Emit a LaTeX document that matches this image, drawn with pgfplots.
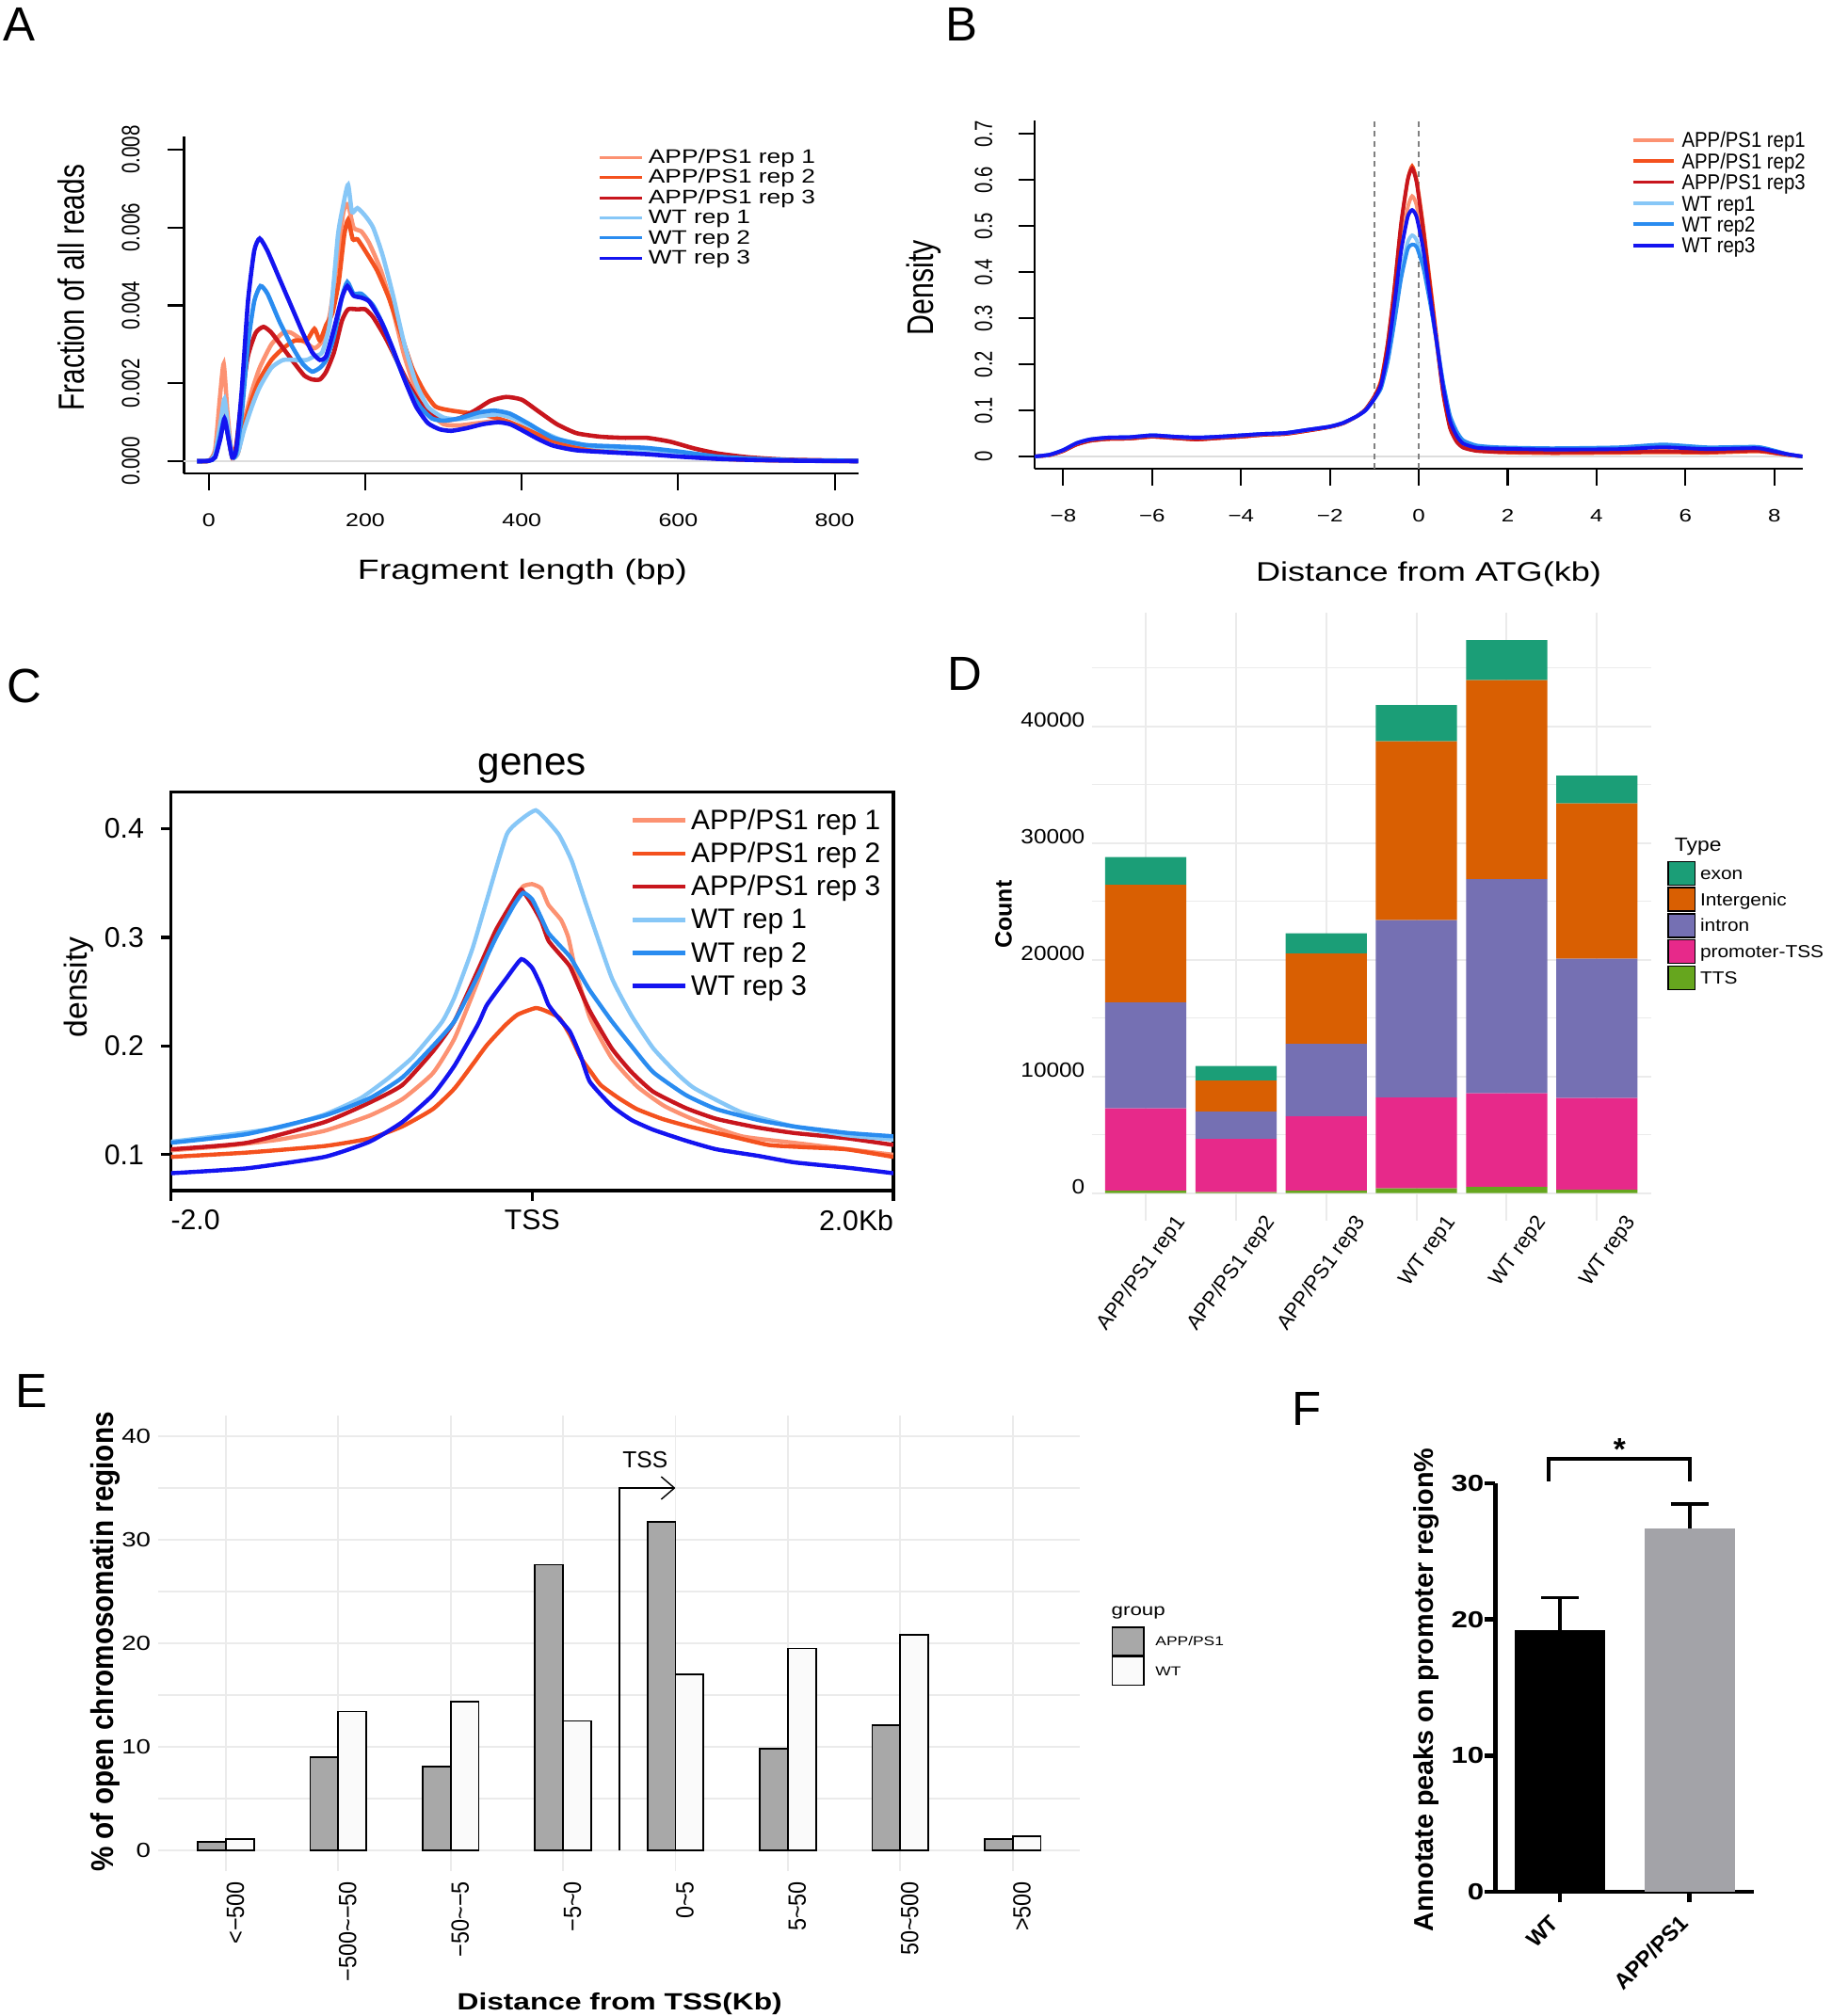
\documentclass[border=0pt]{standalone}
\usepackage{fontspec}
\setmainfont{Liberation Sans}
\newfontfamily\fw{Liberation Sans}[FakeStretch=1.27]
\newfontfamily\fn{Liberation Sans}[FakeStretch=0.77]
\newfontfamily\fnE{Liberation Sans}[FakeStretch=0.89]
\newfontfamily\fm{Liberation Sans}[FakeStretch=1.12]
\usepackage{pgfplots}
\pgfplotsset{compat=1.18}
\usetikzlibrary{arrows.meta}
\newcommand\fs[1]{\fontsize{#1}{#1}\selectfont}

\definecolor{ap1}{HTML}{FC9272}
\definecolor{ap2}{HTML}{F4511E}
\definecolor{ap3}{HTML}{C8161D}
\definecolor{wt1}{HTML}{87C7F7}
\definecolor{wt2}{HTML}{2A8CF0}
\definecolor{wt3}{HTML}{1414F0}
\definecolor{dexon}{HTML}{1B9E77}
\definecolor{dinter}{HTML}{D95F02}
\definecolor{dintron}{HTML}{7570B3}
\definecolor{dprom}{HTML}{E7298A}
\definecolor{dtts}{HTML}{66A61E}
\definecolor{gridc}{HTML}{EBEBEB}
\definecolor{egrey}{HTML}{A8A8A8}
\definecolor{ewhite}{HTML}{FAFAFA}
\definecolor{fgrey}{HTML}{A3A3A8}
\definecolor{zline}{HTML}{DDDDDD}

\pgfplotsset{
  dkey/.style={legend image code/.code={\draw[##1] (0mm,-1.25mm) rectangle (2.83mm,1.25mm);}},
  ekey/.style={legend image code/.code={\draw[##1] (0mm,-1.5mm) rectangle (3.33mm,1.5mm);}},
}

\begin{document}
\begin{tikzpicture}
\path[use as bounding box] (0,0) rectangle (194.6mm,-214.2mm);
\node[anchor=base west, inner sep=0pt, font=\fs{14.5}] at (0.3mm,-4.4mm) {A};
\node[anchor=base west, inner sep=0pt, font=\fs{14.5}] at (100.4mm,-4.4mm) {B};
\node[anchor=base west, inner sep=0pt, font=\fs{14.5}] at (0.7mm,-74.6mm) {C};
\node[anchor=base west, inner sep=0pt, font=\fs{14.5}] at (100.6mm,-73.3mm) {D};
\node[anchor=base west, inner sep=0pt, font=\fs{14.5}] at (1.6mm,-149.5mm) {E};
\node[anchor=base west, inner sep=0pt, font=\fs{14.5}] at (137.2mm,-151.4mm) {F};

%================ A ================
\begin{axis}[
  at={(19.55mm,-14.5mm)}, anchor=north west, scale only axis,
  width=71.65mm, height=35.8mm, clip=false,
  xmin=-31.7, xmax=830.6, ymin=-0.000314, ymax=0.00834,
  axis x line=bottom, axis y line=left,
  axis line style={-, line width=0.6pt},
  tick align=outside, major tick length=1.75mm,
  tick style={line width=0.6pt, black},
  xtick={0,200,400,600,800}, xticklabels={0,200,400,600,800},
  ytick={0,0.002,0.004,0.006,0.008}, yticklabels={0.000,0.002,0.004,0.006,0.008},
  scaled y ticks=false,
  xticklabel style={anchor=north, inner sep=0pt, yshift=-2.45mm, font=\fw\fs{5.6}},
  yticklabel style={xshift=-2.9mm, rotate=90, anchor=south, inner sep=0pt, font=\fn\fs{7.6}},
  xlabel={Fragment length (bp)}, ylabel={Fraction of all reads},
  every axis x label/.style={at={(axis description cs:0.5017,-0.3128)}, anchor=base, inner sep=0pt, font=\fw\fs{8.4}},
  every axis y label/.style={at={(axis description cs:-0.1486,0.5511)}, rotate=90, anchor=base, inner sep=0pt, font=\fn\fs{11}},
  legend style={at={(axis description cs:0.6134,0.9696)}, anchor=north west, draw=none, fill=none, inner sep=0pt, row sep=0pt, column sep=0.57mm, nodes={inner sep=0pt, text height=1.7mm, text depth=0.44mm}, font=\fw\fs{5.9}},
  legend cell align=left,
  legend image code/.code={\draw[#1, line width=0.9pt] (0mm,0mm) -- (4.43mm,0mm);},
  every axis plot/.append style={line width=1.3pt, smooth, tension=0.35},
]
\addplot[zline, line width=0.5pt, sharp plot, forget plot] coordinates {(-31.7,0) (830.6,0)};
\addplot[ap1] coordinates {(-15,0) (0,0.00001) (8,0.0003) (14,0.0016) (19,0.0025) (24,0.0012) (30,0.0001) (37,0.0003) (45,0.0010) (55,0.0018) (65,0.0024) (80,0.0030) (95,0.0033) (105,0.0033) (120,0.0031) (135,0.0029) (145,0.0031) (155,0.0038) (165,0.0053) (172,0.0064) (178,0.0066) (185,0.0060) (195,0.0059) (205,0.0056) (220,0.0049) (235,0.0039) (250,0.0027) (265,0.0018) (280,0.0013) (300,0.00095) (320,0.00092) (345,0.00098) (370,0.00103) (395,0.00092) (420,0.0007) (450,0.00045) (490,0.0003) (530,0.00025) (570,0.0002) (610,0.00013) (660,0.00006) (720,0.00002) (830,0)};
\addlegendentry{APP/PS1 rep 1}
\addplot[ap2] coordinates {(-15,0) (0,0.00001) (8,0.0002) (15,0.0009) (20,0.0013) (25,0.0007) (30,0.0001) (37,0.0002) (45,0.0009) (55,0.0016) (65,0.0021) (80,0.0026) (95,0.0029) (110,0.0031) (125,0.0031) (135,0.0034) (142,0.0031) (150,0.0035) (158,0.0038) (166,0.0046) (173,0.0058) (178,0.0062) (184,0.0057) (190,0.0057) (200,0.0054) (215,0.0049) (230,0.0042) (245,0.0033) (260,0.0024) (275,0.0018) (290,0.0014) (310,0.0013) (335,0.00123) (360,0.00115) (385,0.001) (410,0.00078) (440,0.00052) (480,0.00033) (520,0.00025) (560,0.00021) (600,0.00014) (650,0.00007) (700,0.00003) (830,0)};
\addlegendentry{APP/PS1 rep 2}
\addplot[ap3] coordinates {(-15,0) (0,0.00001) (8,0.0002) (15,0.0008) (20,0.0012) (25,0.0006) (30,0.0001) (35,0.0004) (42,0.0016) (50,0.0027) (60,0.0033) (70,0.00345) (80,0.0033) (95,0.0029) (110,0.0025) (122,0.0022) (132,0.0021) (142,0.0021) (150,0.0023) (160,0.0028) (170,0.0036) (178,0.0039) (190,0.0039) (200,0.0039) (210,0.0037) (225,0.0032) (240,0.0026) (255,0.0020) (270,0.0015) (285,0.0012) (300,0.00105) (320,0.0011) (340,0.0013) (360,0.00155) (380,0.00165) (400,0.00158) (420,0.0013) (445,0.00095) (470,0.00072) (500,0.00063) (530,0.0006) (560,0.0006) (590,0.0005) (620,0.00033) (650,0.0002) (690,0.0001) (740,0.00004) (830,0.00001)};
\addlegendentry{APP/PS1 rep 3}
\addplot[wt1] coordinates {(-15,0) (0,0.00001) (8,0.0002) (15,0.0010) (20,0.0016) (25,0.0008) (30,0.0001) (37,0.0002) (45,0.0008) (55,0.0014) (65,0.0019) (80,0.0024) (95,0.0026) (110,0.0026) (125,0.0026) (135,0.0027) (145,0.0028) (155,0.0036) (165,0.0058) (172,0.0066) (178,0.0071) (183,0.0064) (190,0.0065) (200,0.0063) (210,0.0060) (222,0.0053) (235,0.0043) (250,0.0030) (265,0.0020) (280,0.0014) (300,0.00112) (320,0.00108) (345,0.00115) (370,0.0012) (390,0.0011) (420,0.00082) (450,0.00055) (490,0.00038) (530,0.00032) (570,0.00027) (610,0.00018) (660,0.00009) (720,0.00003) (830,0)};
\addlegendentry{WT rep 1}
\addplot[wt2] coordinates {(-15,0) (0,0.00001) (8,0.0001) (15,0.0007) (20,0.0011) (25,0.0006) (30,0.0001) (35,0.0002) (42,0.0012) (50,0.0030) (58,0.0041) (66,0.0045) (75,0.0043) (90,0.0036) (105,0.0030) (120,0.0025) (132,0.0023) (142,0.0024) (150,0.0026) (160,0.0032) (170,0.0042) (177,0.0046) (185,0.0043) (195,0.0043) (210,0.0040) (225,0.0034) (240,0.0026) (255,0.0019) (270,0.0014) (285,0.0011) (300,0.00104) (320,0.0011) (345,0.00125) (365,0.0013) (385,0.00122) (410,0.00095) (440,0.0006) (480,0.00042) (520,0.00038) (560,0.00034) (600,0.00025) (650,0.00012) (700,0.00006) (760,0.00002) (830,0.00001)};
\addlegendentry{WT rep 2}
\addplot[wt3] coordinates {(-15,0) (0,0.00001) (8,0.0001) (15,0.0006) (20,0.00109) (25,0.0006) (30,0.0001) (35,0.0003) (42,0.0018) (50,0.0041) (58,0.0054) (65,0.00572) (75,0.0054) (90,0.0047) (105,0.0040) (120,0.0033) (132,0.0028) (142,0.0026) (150,0.0027) (160,0.0034) (170,0.0042) (177,0.0045) (185,0.00425) (195,0.0042) (205,0.0041) (220,0.0036) (235,0.0029) (250,0.0021) (265,0.0014) (280,0.00098) (295,0.00082) (310,0.00078) (330,0.00085) (350,0.00095) (370,0.00100) (385,0.00095) (400,0.00080) (420,0.00058) (440,0.0004) (470,0.00028) (520,0.00022) (560,0.00018) (600,0.00012) (650,0.00006) (700,0.00003) (760,0.00001) (830,0)};
\addlegendentry{WT rep 3}
\end{axis}

%================ B ================
\begin{axis}[
  at={(109.9mm,-12.8mm)}, anchor=north west, scale only axis,
  width=81.55mm, height=37.03mm, clip=false,
  xmin=-8.644, xmax=8.63, ymin=-0.0272, ymax=0.7292,
  axis x line=bottom, axis y line=left,
  axis line style={-, line width=0.6pt},
  tick align=outside, major tick length=1.75mm,
  tick style={line width=0.6pt, black},
  xtick={-8,-6,-4,-2,0,2,4,6,8}, xticklabels={−8,−6,−4,−2,0,2,4,6,8},
  ytick={0,0.1,0.2,0.3,0.4,0.5,0.6,0.7}, yticklabels={0,0.1,0.2,0.3,0.4,0.5,0.6,0.7},
  xticklabel style={anchor=north, inner sep=0pt, yshift=-2.49mm, font=\fw\fs{5.4}},
  yticklabel style={xshift=-2.67mm, rotate=90, anchor=south, inner sep=0pt, font=\fn\fs{7.5}},
  xlabel={Distance from ATG(kb)}, ylabel={Density},
  every axis x label/.style={at={(axis description cs:0.5132,-0.3214)}, anchor=base, inner sep=0pt, font=\fw\fs{8.1}},
  every axis y label/.style={at={(axis description cs:-0.1324,0.5199)}, rotate=90, anchor=base, inner sep=0pt, font=\fn\fs{11.2}},
  legend style={at={(axis description cs:0.7762,0.9762)}, anchor=north west, draw=none, fill=none, inner sep=0pt, row sep=0pt, column sep=0.7mm, nodes={inner sep=0pt, text height=1.94mm, text depth=0.3mm}, font=\fnE\fs{6.5}},
  legend cell align=left,
  legend image code/.code={\draw[#1, line width=1.1pt] (0mm,0mm) -- (4.3mm,0mm);},
  every axis plot/.append style={line width=1.1pt, smooth, tension=0.35},
]
\addplot[zline, line width=0.5pt, sharp plot, forget plot] coordinates {(-8.644,0) (8.63,0)};
\addplot[gray, line width=0.4pt, sharp plot, dash pattern=on 0.6mm off 0.47mm, forget plot] coordinates {(-1,-0.0272) (-1,0.7292)};
\addplot[gray, line width=0.4pt, sharp plot, dash pattern=on 0.6mm off 0.47mm, forget plot] coordinates {(0,-0.0272) (0,0.7292)};
\addplot[ap1] coordinates {(-8.64,0) (-8.3,0.003) (-8.0,0.012) (-7.7,0.026) (-7.4,0.034) (-7.0,0.038) (-6.5,0.039) (-6.0,0.043) (-5.5,0.040) (-5.0,0.037) (-4.5,0.040) (-4.0,0.043) (-3.5,0.047) (-3.0,0.049) (-2.5,0.056) (-2.0,0.064) (-1.7,0.072) (-1.4,0.087) (-1.2,0.102) (-1.0,0.128) (-0.85,0.155) (-0.7,0.225) (-0.55,0.33) (-0.4,0.45) (-0.25,0.54) (-0.15,0.565) (-0.05,0.545) (0.1,0.46) (0.25,0.35) (0.4,0.245) (0.55,0.14) (0.7,0.07) (0.85,0.038) (1.0,0.022) (1.3,0.014) (1.8,0.011) (3.0,0.009) (4.5,0.011) (5.5,0.012) (6.5,0.011) (7.6,0.014) (8.0,0.009) (8.3,0.004) (8.63,0)};
\addlegendentry{APP/PS1 rep1}
\addplot[ap2] coordinates {(-8.64,0) (-8.3,0.003) (-8.0,0.012) (-7.7,0.026) (-7.4,0.034) (-7.0,0.038) (-6.5,0.039) (-6.0,0.043) (-5.5,0.040) (-5.0,0.037) (-4.5,0.040) (-4.0,0.043) (-3.5,0.047) (-3.0,0.049) (-2.5,0.056) (-2.0,0.064) (-1.7,0.072) (-1.4,0.087) (-1.2,0.102) (-1.0,0.13) (-0.85,0.165) (-0.7,0.245) (-0.55,0.36) (-0.4,0.50) (-0.25,0.60) (-0.15,0.63) (-0.05,0.60) (0.1,0.50) (0.25,0.38) (0.4,0.26) (0.55,0.14) (0.7,0.065) (0.85,0.035) (1.0,0.02) (1.3,0.013) (1.8,0.009) (3.0,0.007) (4.5,0.008) (5.5,0.009) (6.5,0.008) (7.6,0.011) (8.0,0.007) (8.3,0.003) (8.63,0)};
\addlegendentry{APP/PS1 rep2}
\addplot[ap3] coordinates {(-8.64,0) (-8.3,0.003) (-8.0,0.012) (-7.7,0.026) (-7.4,0.034) (-7.0,0.038) (-6.5,0.039) (-6.0,0.043) (-5.5,0.040) (-5.0,0.037) (-4.5,0.040) (-4.0,0.043) (-3.5,0.047) (-3.0,0.049) (-2.5,0.056) (-2.0,0.064) (-1.7,0.072) (-1.4,0.087) (-1.2,0.102) (-1.0,0.13) (-0.85,0.16) (-0.7,0.245) (-0.55,0.365) (-0.4,0.505) (-0.25,0.60) (-0.15,0.625) (-0.05,0.595) (0.1,0.49) (0.25,0.37) (0.4,0.25) (0.55,0.135) (0.7,0.062) (0.85,0.032) (1.0,0.019) (1.3,0.012) (1.8,0.010) (3.0,0.009) (4.5,0.010) (5.5,0.011) (6.5,0.010) (7.6,0.013) (8.0,0.008) (8.3,0.004) (8.63,0)};
\addlegendentry{APP/PS1 rep3}
\addplot[wt1] coordinates {(-8.64,0) (-8.3,0.004) (-8.0,0.014) (-7.7,0.029) (-7.4,0.037) (-7.0,0.041) (-6.5,0.042) (-6.0,0.046) (-5.5,0.043) (-5.0,0.041) (-4.5,0.043) (-4.0,0.046) (-3.5,0.049) (-3.0,0.051) (-2.5,0.058) (-2.0,0.065) (-1.7,0.073) (-1.4,0.087) (-1.2,0.100) (-1.0,0.125) (-0.85,0.15) (-0.7,0.21) (-0.55,0.30) (-0.4,0.40) (-0.25,0.465) (-0.15,0.48) (-0.05,0.47) (0.1,0.42) (0.25,0.34) (0.4,0.25) (0.55,0.155) (0.7,0.085) (0.85,0.05) (1.0,0.032) (1.3,0.022) (1.8,0.019) (3.0,0.016) (4.5,0.018) (5.5,0.024) (6.5,0.018) (7.6,0.02) (8.0,0.012) (8.3,0.005) (8.63,0)};
\addlegendentry{WT rep1}
\addplot[wt2] coordinates {(-8.64,0) (-8.3,0.004) (-8.0,0.014) (-7.7,0.029) (-7.4,0.037) (-7.0,0.041) (-6.5,0.042) (-6.0,0.046) (-5.5,0.043) (-5.0,0.041) (-4.5,0.043) (-4.0,0.046) (-3.5,0.049) (-3.0,0.051) (-2.5,0.058) (-2.0,0.065) (-1.7,0.073) (-1.4,0.087) (-1.2,0.100) (-1.0,0.125) (-0.85,0.148) (-0.7,0.205) (-0.55,0.29) (-0.4,0.385) (-0.25,0.45) (-0.15,0.46) (-0.05,0.455) (0.1,0.41) (0.25,0.335) (0.4,0.25) (0.55,0.16) (0.7,0.09) (0.85,0.055) (1.0,0.035) (1.3,0.024) (1.8,0.02) (3.0,0.018) (4.5,0.02) (5.5,0.026) (6.5,0.02) (7.6,0.021) (8.0,0.013) (8.3,0.005) (8.63,0)};
\addlegendentry{WT rep2}
\addplot[wt3] coordinates {(-8.64,0) (-8.3,0.004) (-8.0,0.014) (-7.7,0.029) (-7.4,0.037) (-7.0,0.041) (-6.5,0.042) (-6.0,0.046) (-5.5,0.043) (-5.0,0.041) (-4.5,0.043) (-4.0,0.046) (-3.5,0.049) (-3.0,0.051) (-2.5,0.058) (-2.0,0.065) (-1.7,0.073) (-1.4,0.087) (-1.2,0.100) (-1.0,0.125) (-0.85,0.155) (-0.7,0.225) (-0.55,0.33) (-0.4,0.445) (-0.25,0.52) (-0.15,0.535) (-0.05,0.52) (0.1,0.45) (0.25,0.35) (0.4,0.25) (0.55,0.15) (0.7,0.078) (0.85,0.045) (1.0,0.028) (1.3,0.019) (1.8,0.017) (3.0,0.015) (4.5,0.016) (5.5,0.02) (6.5,0.016) (7.6,0.018) (8.0,0.011) (8.3,0.005) (8.63,0)};
\addlegendentry{WT rep3}
\end{axis}

%================ C ================
\begin{axis}[
  at={(18.16mm,-84.17mm)}, anchor=north west, scale only axis,
  width=76.74mm, height=42.33mm,
  xmin=-2, xmax=2, ymin=0.067, ymax=0.4336,
  axis line style={line width=0.9pt},
  tick align=outside, major tick length=1.1mm,
  tick style={line width=0.9pt, black},
  xtick pos=bottom, ytick pos=left,
  xtick={-2,0,2}, xticklabels={\makebox[0pt][l]{-2.0},TSS,\makebox[0pt][r]{2.0Kb}},
  ytick={0.1,0.2,0.3,0.4}, yticklabels={0.1,0.2,0.3,0.4},
  xticklabel style={anchor=north, inner sep=0pt, yshift=-0.9mm, font=\fs{8.6}},
  yticklabel style={anchor=east, inner sep=0pt, xshift=-1.7mm, font=\fs{8.6}},
  title={genes},
  every axis title/.style={at={(axis description cs:0.5,1.0435)}, anchor=base, inner sep=0pt, font=\fs{12}},
  ylabel={density},
  every axis y label/.style={at={(axis description cs:-0.1155,0.5103)}, rotate=90, anchor=base, inner sep=0pt, font=\fs{9.6}},
  legend style={at={(axis description cs:0.6351,0.9724)}, anchor=north west, draw=none, fill=none, inner sep=0pt, row sep=0pt, column sep=0.4mm, nodes={inner sep=0pt, text height=2.72mm, text depth=0.8mm}, font=\fs{8.5}},
  legend cell align=left,
  legend image code/.code={\draw[#1, line width=1.3pt] (0mm,0mm) -- (5.6mm,0mm);},
  every axis plot/.append style={line width=1.25pt, smooth, tension=0.3},
]
\addplot[ap1] coordinates {(-2,0.104) (-1.7,0.108) (-1.4,0.114) (-1.15,0.122) (-0.9,0.136) (-0.72,0.151) (-0.55,0.175) (-0.43,0.207) (-0.3,0.26) (-0.2,0.305) (-0.1,0.335) (-0.05,0.347) (0,0.349) (0.05,0.345) (0.09,0.33) (0.16,0.316) (0.2,0.3) (0.24,0.27) (0.32,0.226) (0.44,0.189) (0.58,0.163) (0.73,0.145) (0.9,0.132) (1.16,0.117) (1.45,0.111) (1.75,0.105) (2,0.1)};
\addlegendentry{APP/PS1 rep 1}
\addplot[ap2] coordinates {(-2,0.098) (-1.58,0.102) (-1.15,0.108) (-0.9,0.115) (-0.72,0.126) (-0.55,0.142) (-0.43,0.161) (-0.33,0.183) (-0.25,0.201) (-0.15,0.219) (-0.08,0.229) (0.02,0.235) (0.08,0.232) (0.15,0.226) (0.21,0.21) (0.27,0.189) (0.33,0.175) (0.38,0.164) (0.48,0.152) (0.58,0.142) (0.72,0.133) (0.87,0.126) (1.1,0.117) (1.31,0.109) (1.5,0.107) (1.74,0.105) (2,0.098)};
\addlegendentry{APP/PS1 rep 2}
\addplot[ap3] coordinates {(-2,0.105) (-1.58,0.111) (-1.15,0.13) (-0.9,0.148) (-0.72,0.164) (-0.55,0.195) (-0.43,0.223) (-0.3,0.27) (-0.2,0.307) (-0.1,0.335) (-0.06,0.344) (0,0.33) (0.05,0.315) (0.09,0.297) (0.15,0.285) (0.21,0.273) (0.27,0.25) (0.32,0.232) (0.44,0.198) (0.55,0.176) (0.67,0.158) (0.85,0.143) (1.02,0.133) (1.25,0.125) (1.45,0.12) (1.75,0.115) (2,0.109)};
\addlegendentry{APP/PS1 rep 3}
\addplot[wt1] coordinates {(-2,0.112) (-1.7,0.118) (-1.4,0.125) (-1.15,0.137) (-0.95,0.152) (-0.8,0.17) (-0.66,0.19) (-0.5,0.222) (-0.43,0.245) (-0.33,0.29) (-0.25,0.335) (-0.14,0.395) (-0.05,0.41) (0.02,0.417) (0.08,0.408) (0.15,0.394) (0.22,0.37) (0.3,0.33) (0.44,0.263) (0.55,0.228) (0.67,0.198) (0.8,0.175) (0.9,0.161) (1.16,0.139) (1.45,0.126) (1.74,0.118) (2,0.114)};
\addlegendentry{WT rep 1}
\addplot[wt2] coordinates {(-2,0.111) (-1.58,0.119) (-1.15,0.136) (-0.9,0.152) (-0.72,0.171) (-0.55,0.2) (-0.43,0.223) (-0.3,0.265) (-0.2,0.3) (-0.1,0.33) (-0.05,0.341) (0,0.335) (0.05,0.318) (0.09,0.304) (0.15,0.293) (0.21,0.282) (0.27,0.265) (0.32,0.251) (0.44,0.223) (0.55,0.2) (0.67,0.176) (0.85,0.155) (1.02,0.142) (1.25,0.132) (1.45,0.126) (1.75,0.12) (2,0.117)};
\addlegendentry{WT rep 2}
\addplot[wt3] coordinates {(-2,0.083) (-1.58,0.0875) (-1.15,0.098) (-0.9,0.112) (-0.72,0.13) (-0.55,0.155) (-0.43,0.182) (-0.3,0.22) (-0.25,0.238) (-0.14,0.263) (-0.06,0.28) (0,0.272) (0.05,0.255) (0.09,0.238) (0.15,0.225) (0.21,0.213) (0.27,0.19) (0.32,0.167) (0.44,0.145) (0.55,0.132) (0.67,0.123) (0.85,0.113) (1.02,0.105) (1.25,0.099) (1.45,0.093) (1.75,0.088) (2,0.083)};
\addlegendentry{WT rep 3}
\end{axis}

%================ D ================
\begin{axis}[
  at={(115.96mm,-65.07mm)}, anchor=north west, scale only axis,
  width=59.41mm, height=64.62mm, clip=false,
  ybar stacked, bar width=0.9,
  xmin=0.4, xmax=6.6, ymin=-2369, ymax=49745,
  axis line style={draw=none}, major tick length=0pt, tick style={draw=none},
  xtick={1,2,3,4,5,6}, xticklabels={APP/PS1 rep1,APP/PS1 rep2,APP/PS1 rep3,WT rep1,WT rep2,WT rep3},
  ytick={0,10000,20000,30000,40000}, yticklabels={0,10000,20000,30000,40000},
  minor ytick={5000,15000,25000,35000,45000},
  scaled y ticks=false,
  xmajorgrids, ymajorgrids, yminorgrids,
  major grid style={gridc, line width=0.55pt},
  minor grid style={gridc, line width=0.35pt},
  xticklabel style={xshift=3.8mm, yshift=0.2mm, rotate=54, anchor=east, inner sep=0pt, font=\fs{6.3}},
  yticklabel style={anchor=east, inner sep=0pt, xshift=-0.66mm, yshift=0.65mm, font=\fm\fs{6.2}},
  ylabel={Count},
  every axis y label/.style={at={(axis description cs:-0.1576,0.5036)}, rotate=90, anchor=center, inner sep=0pt, font=\bfseries\fs{7.1}},
  legend style={at={(axis description cs:1.0286,0.5935)}, anchor=north west, draw=none, fill=none, inner sep=0pt, row sep=0pt, column sep=0.5mm, nodes={inner sep=0pt, text height=2.05mm, text depth=0.72mm}, font=\fm\fs{5.3}},
  legend cell align=left, reverse legend,
]
\addplot[fill=dtts, draw=none, dkey] coordinates {(1,200) (2,80) (3,200) (4,403) (5,524) (6,282)};
\addlegendentry{TTS}
\addplot[fill=dprom, draw=none, dkey] coordinates {(1,7058) (2,4557) (3,6372) (4,7782) (5,8024) (6,7863)};
\addlegendentry{promoter-TSS}
\addplot[fill=dintron, draw=none, dkey] coordinates {(1,9072) (2,2338) (3,6210) (4,15201) (5,18345) (6,11934)};
\addlegendentry{intron}
\addplot[fill=dinter, draw=none, dkey] coordinates {(1,10080) (2,2661) (3,7741) (4,15321) (5,17056) (6,13306)};
\addlegendentry{Intergenic}
\addplot[fill=dexon, draw=none, dkey] coordinates {(1,2380) (2,1250) (3,1734) (4,3105) (5,3427) (6,2379)};
\addlegendentry{exon}
\node[anchor=base west, inner sep=0pt, font=\fm\fs{5.8}] at (axis description cs:1.0414,0.6065) {Type};
\end{axis}

%================ E ================
\begin{axis}[
  at={(16.83mm,-150.4mm)}, anchor=north west, scale only axis,
  width=97.9mm, height=48.4mm, clip=false,
  ybar, bar width=0.25,
  xmin=0.4, xmax=8.6, ymin=-2, ymax=42,
  axis line style={draw=none}, major tick length=0pt, tick style={draw=none},
  xtick={1,2,3,4,5,6,7,8},
  xticklabels={<−500,−500\textasciitilde−50,−50\textasciitilde−5,−5\textasciitilde0,0\textasciitilde5,5\textasciitilde50,50\textasciitilde500,>500},
  ytick={0,10,20,30,40}, yticklabels={0,10,20,30,40},
  minor ytick={5,15,25,35},
  xmajorgrids, ymajorgrids, yminorgrids,
  major grid style={gridc, line width=0.55pt},
  minor grid style={gridc, line width=0.35pt},
  xticklabel style={xshift=1.0mm, yshift=-1.03mm, rotate=90, anchor=east, inner sep=0pt, font=\fnE\fs{7.5}},
  yticklabel style={anchor=east, inner sep=0pt, xshift=-0.75mm, font=\fw\fs{6.2}},
  xlabel={Distance from TSS(Kb)}, ylabel={\% of open chromosomatin regions},
  every axis x label/.style={at={(axis description cs:0.5004,-0.3048)}, anchor=base, inner sep=0pt, font=\fw\bfseries\fs{7.1}},
  every axis y label/.style={at={(axis description cs:-0.0493,0.5031)}, rotate=90, anchor=base, inner sep=0pt, font=\fnE\bfseries\fs{9.5}},
  legend style={at={(axis description cs:1.0334,0.539)}, anchor=north west, draw=none, fill=none, inner sep=0pt, row sep=0pt, column sep=1.17mm, nodes={inner sep=0pt, text height=2.05mm, text depth=1.09mm}, font=\fw\fs{3.9}},
  legend cell align=left,
]
\addplot[fill=egrey, draw=black, line width=0.5pt, bar shift=-0.125, ekey] coordinates {(1,0.8) (2,9.0) (3,8.1) (4,27.6) (5,31.7) (6,9.8) (7,12.1) (8,1.08)};
\addlegendentry{APP/PS1}
\addplot[fill=ewhite, draw=black, line width=0.5pt, bar shift=0.125, ekey] coordinates {(1,1.12) (2,13.4) (3,14.35) (4,12.5) (5,17.0) (6,19.5) (7,20.8) (8,1.36)};
\addlegendentry{WT}
\addplot[sharp plot, black, line width=0.4pt, -{Straight Barb[length=1.4mm,width=2.4mm]}, forget plot] coordinates {(4.5,0) (4.5,35) (5,35)};
\node[anchor=base, inner sep=0pt, font=\fs{7}] at (axis cs:4.73,37.0) {TSS};
\node[anchor=base west, inner sep=0pt, font=\fw\fs{5}] at (axis description cs:1.0334,0.5605) {group};
\end{axis}

%================ F ================
\begin{axis}[
  at={(158.84mm,-157.59mm)}, anchor=north west, scale only axis,
  width=27.5mm, height=43.41mm, clip=false,
  xmin=-0.5, xmax=1.5, ymin=0, ymax=30,
  axis x line=bottom, axis y line=left,
  axis line style={-, line width=1.3pt},
  tick align=outside, major tick length=1.14mm,
  tick style={line width=1.3pt, black},
  xtick={0,1}, xticklabels={WT,APP/PS1},
  ytick={0,10,20,30}, yticklabels={0,10,20,30},
  xticklabel style={xshift=-0.55mm, yshift=-1.72mm, rotate=45, anchor=east, inner sep=0pt, font=\bfseries\fs{6.7}},
  yticklabel style={anchor=east, inner sep=0pt, font=\fw\bfseries\fs{7}},
  ylabel={Annotate peaks on promoter region\%},
  every axis y label/.style={at={(axis description cs:-0.2396,0.4939)}, rotate=90, anchor=base, inner sep=0pt, font=\bfseries\fs{8.2}},
  ybar, bar width=0.7,
]
\addplot[fill=black, draw=none, bar shift=0,
  error bars/.cd, y dir=plus, y explicit,
  error bar style={draw=black, line width=1.1pt},
  error mark options={rotate=90, draw=black, line width=1.1pt, mark size=2mm}]
  coordinates {(0,19.2) +- (0,2.4)};
\addplot[fill=fgrey, draw=none, bar shift=0,
  error bars/.cd, y dir=plus, y explicit,
  error bar style={draw=black, line width=1.1pt},
  error mark options={rotate=90, draw=black, line width=1.1pt, mark size=2mm}]
  coordinates {(1,26.7) +- (0,1.75)};
\addplot[sharp plot, black, line width=1.1pt] coordinates {(-0.09,30.15) (-0.09,31.8) (1,31.8) (1,30.15)};
\node[anchor=base, inner sep=0pt, font=\bfseries\fs{9.5}] at (axis cs:0.46,31.7) {*};
\end{axis}
\end{tikzpicture}
\end{document}
